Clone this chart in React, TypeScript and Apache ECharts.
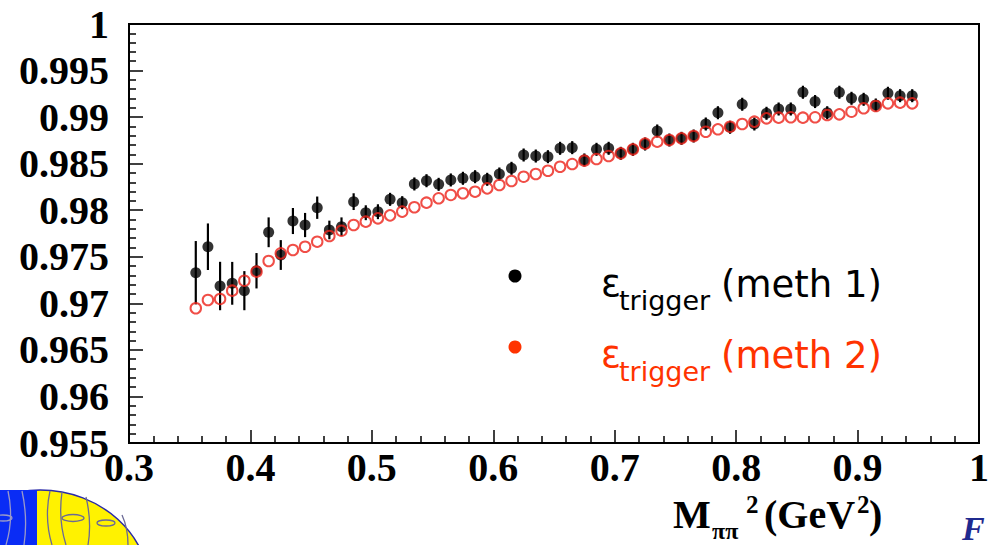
import React, { useEffect, useRef } from "react";
import * as echarts from "echarts";

// M_pipi^2 bin centres (GeV^2)
const massSq = [
  0.355, 0.365, 0.375, 0.385, 0.395, 0.405, 0.415, 0.425, 0.435, 0.445,
  0.455, 0.465, 0.475, 0.485, 0.495, 0.505, 0.515, 0.525, 0.535, 0.545,
  0.555, 0.565, 0.575, 0.585, 0.595, 0.605, 0.615, 0.625, 0.635, 0.645,
  0.655, 0.665, 0.675, 0.685, 0.695, 0.705, 0.715, 0.725, 0.735, 0.745,
  0.755, 0.765, 0.775, 0.785, 0.795, 0.805, 0.815, 0.825, 0.835, 0.845,
  0.855, 0.865, 0.875, 0.885, 0.895, 0.905, 0.915, 0.925, 0.935, 0.945,
];

// trigger efficiency, method 1
const effMeth1 = [
  0.97329, 0.97608, 0.97186, 0.97215, 0.97136, 0.9735, 0.97763, 0.97519, 0.97884, 0.97841,
  0.98027, 0.97788, 0.97823, 0.98092, 0.97973, 0.97984, 0.98117, 0.98081, 0.98282, 0.98317,
  0.98278, 0.98325, 0.98343, 0.9836, 0.98332, 0.98389, 0.9845, 0.98593, 0.98582, 0.98575,
  0.98665, 0.98672, 0.9854, 0.98654, 0.98665, 0.98611, 0.98654, 0.98711, 0.98851, 0.98754,
  0.98772, 0.98797, 0.98926, 0.99047, 0.98891, 0.99138, 0.98926, 0.99041, 0.99087, 0.99087,
  0.99267, 0.99167, 0.99047, 0.99267, 0.99202, 0.99191, 0.9913, 0.99256, 0.9923, 0.9923,
];

// statistical error on method 1
const effMeth1Err = [
  0.0034, 0.0025, 0.0026, 0.0023, 0.0021, 0.0019, 0.0016, 0.0016, 0.0014, 0.0013,
  0.0012, 0.001, 0.001, 0.0009, 0.0008, 0.0008, 0.0007, 0.0007, 0.0007, 0.0007,
  0.0007, 0.0007, 0.0007, 0.0007, 0.0007, 0.0007, 0.0007, 0.0007, 0.0007, 0.0007,
  0.0007, 0.0007, 0.0007, 0.0007, 0.0007, 0.0007, 0.0007, 0.0007, 0.0007, 0.0007,
  0.0007, 0.0007, 0.0007, 0.0007, 0.0007, 0.0007, 0.0007, 0.0007, 0.0007, 0.0007,
  0.0007, 0.0007, 0.0007, 0.0007, 0.0007, 0.0007, 0.0007, 0.0007, 0.0007, 0.0007,
];

// trigger efficiency, method 2
const effMeth2 = [
  0.96947, 0.97036, 0.97047, 0.97136, 0.97243, 0.9734, 0.97455, 0.97537, 0.97573, 0.97608,
  0.97662, 0.97723, 0.9778, 0.97841, 0.97877, 0.97913, 0.97945, 0.97985, 0.98032, 0.98081,
  0.98128, 0.98164, 0.98182, 0.98199, 0.98235, 0.98271, 0.98314, 0.9836, 0.98389, 0.98424,
  0.98467, 0.98496, 0.98532, 0.9855, 0.98582, 0.98611, 0.98654, 0.98715, 0.98736, 0.98754,
  0.98772, 0.98797, 0.98843, 0.98869, 0.98897, 0.98926, 0.98951, 0.98987, 0.98994, 0.98998,
  0.98994, 0.98998, 0.99023, 0.9903, 0.99058, 0.99095, 0.99119, 0.99148, 0.99155, 0.99148,
];

const xTicks = [0.3, 0.4, 0.5, 0.6, 0.7, 0.8, 0.9, 1];
const yTicks = [0.955, 0.96, 0.965, 0.97, 0.975, 0.98, 0.985, 0.99, 0.995, 1];

const RED = "#ec2219";
const LEGEND_RED = "#ff3300";
const SERIF = '"Liberation Serif", "Times New Roman", serif';
const SANS = '"DejaVu Sans", sans-serif';

const fmt = (v: number) => String(Number(v.toFixed(3)));

function txt(text: string, x: number, y: number, font: string, fill: string) {
  return {
    type: "text",
    silent: true,
    style: {
      text,
      x,
      y,
      font,
      fill,
      align: "left",
      verticalAlign: "middle",
      textAlign: "left",
      textVerticalAlign: "middle",
    },
  };
}

export default function App() {
  const ref = useRef<HTMLDivElement>(null);

  useEffect(() => {
    const chart = echarts.init(ref.current!, null, { renderer: "svg" });
    const xStep = Number((xTicks[1] - xTicks[0]).toFixed(4));
    const yStep = Number((yTicks[1] - yTicks[0]).toFixed(4));

    const labelStyle = {
      color: "#000",
      fontFamily: SERIF,
      fontWeight: "bold",
      fontSize: 40,
      showMinLabel: true,
      showMaxLabel: true,
      formatter: fmt,
    };

    const legendRows = [
      { text: "(meth 1)", color: "#000", dy: 0 },
      { text: "(meth 2)", color: LEGEND_RED, dy: 71 },
    ];

    const legendGraphics: any[] = [];
    legendRows.forEach((r) => {
      legendGraphics.push({
        type: "circle",
        silent: true,
        shape: { cx: 515, cy: 276 + r.dy, r: 6.5 },
        style: { fill: r.color },
      });
      legendGraphics.push(txt("ε", 601, 283 + r.dy, `37px ${SANS}`, r.color));
      legendGraphics.push(txt("trigger", 619, 300 + r.dy, `27px ${SANS}`, r.color));
      legendGraphics.push(txt(r.text, 721, 284 + r.dy, `37px ${SANS}`, r.color));
    });

    const logoLine = "#6b6a96";
    const logo: any[] = [
      {
        type: "ellipse",
        silent: true,
        shape: { cx: 40, cy: 590, rx: 110, ry: 100 },
        style: { fill: "#fff200", stroke: "#2a2aa8", lineWidth: 1.5 },
      },
      {
        type: "rect",
        silent: true,
        shape: { x: 0, y: 490, width: 37, height: 60 },
        style: { fill: "#0a2cf5" },
      },
      {
        type: "bezierCurve",
        silent: true,
        shape: { x1: 50, y1: 491, x2: 52, y2: 545, cpx1: 44, cpy1: 518 },
        style: { stroke: logoLine, lineWidth: 1.3, fill: "none" },
      },
      {
        type: "bezierCurve",
        silent: true,
        shape: { x1: 62, y1: 492, x2: 66, y2: 545, cpx1: 58, cpy1: 520 },
        style: { stroke: logoLine, lineWidth: 1.3, fill: "none" },
      },
      {
        type: "bezierCurve",
        silent: true,
        shape: { x1: 86, y1: 497, x2: 88, y2: 545, cpx1: 92, cpy1: 522 },
        style: { stroke: logoLine, lineWidth: 1.3, fill: "none" },
      },
      {
        type: "bezierCurve",
        silent: true,
        shape: { x1: 122, y1: 515, x2: 128, y2: 545, cpx1: 128, cpy1: 528 },
        style: { stroke: logoLine, lineWidth: 1.3, fill: "none" },
      },
      {
        type: "ellipse",
        silent: true,
        shape: { cx: 73, cy: 518, rx: 11, ry: 3.5 },
        style: { fill: "none", stroke: logoLine, lineWidth: 1.3 },
      },
      {
        type: "ellipse",
        silent: true,
        shape: { cx: 106, cy: 523, rx: 9, ry: 3 },
        style: { fill: "none", stroke: logoLine, lineWidth: 1.3 },
      },
      {
        type: "bezierCurve",
        silent: true,
        shape: { x1: 22, y1: 491, x2: 24, y2: 545, cpx1: 28, cpy1: 518 },
        style: { stroke: "#9a9ac8", lineWidth: 1.3, fill: "none" },
      },
      {
        type: "bezierCurve",
        silent: true,
        shape: { x1: 8, y1: 491, x2: 6, y2: 545, cpx1: 14, cpy1: 518 },
        style: { stroke: "#9a9ac8", lineWidth: 1.3, fill: "none" },
      },
      {
        type: "ellipse",
        silent: true,
        shape: { cx: 3, cy: 518, rx: 9, ry: 3 },
        style: { fill: "none", stroke: "#9a9ac8", lineWidth: 1.3 },
      },
    ];

    const axisTitle: any[] = [
      txt("M", 673, 514, `bold 40px ${SERIF}`, "#000"),
      txt("ππ", 712, 531, `bold 24px ${SERIF}`, "#000"),
      txt("2", 746, 504, `bold 25px ${SERIF}`, "#000"),
      txt("(GeV", 764, 514, `bold 40px ${SERIF}`, "#000"),
      txt("2", 857, 504, `bold 25px ${SERIF}`, "#000"),
      txt(")", 869, 514, `bold 40px ${SERIF}`, "#000"),
      txt("F", 962, 528, `italic bold 34px ${SERIF}`, "#1f2a8f"),
    ];

    const option: any = {
      animation: false,
      backgroundColor: "#fff",
      grid: {
        left: 129,
        right: 2,
        top: 24,
        bottom: 102,
        show: true,
        borderColor: "#000",
        borderWidth: 2,
        backgroundColor: "#fff",
      },
      xAxis: {
        type: "value",
        min: xTicks[0],
        max: xTicks[xTicks.length - 1],
        interval: xStep,
        axisLine: { show: true, onZero: false, lineStyle: { color: "#000", width: 2 } },
        axisTick: { show: true, inside: true, length: 13, lineStyle: { color: "#000", width: 1.5 } },
        minorTick: { show: true, splitNumber: 5, length: 7, lineStyle: { color: "#000", width: 1.5 } },
        splitLine: { show: false },
        minorSplitLine: { show: false },
        axisLabel: { ...labelStyle, margin: 4 },
      },
      yAxis: {
        type: "value",
        min: yTicks[0],
        max: yTicks[yTicks.length - 1],
        interval: yStep,
        axisLine: { show: true, onZero: false, lineStyle: { color: "#000", width: 2 } },
        axisTick: { show: true, inside: true, length: 14, lineStyle: { color: "#000", width: 1.5 } },
        minorTick: { show: true, splitNumber: 5, length: 7, lineStyle: { color: "#000", width: 1.5 } },
        splitLine: { show: false },
        minorSplitLine: { show: false },
        axisLabel: { ...labelStyle, margin: 20 },
      },
      series: [
        {
          name: "err1",
          type: "custom",
          silent: true,
          z: 2,
          data: massSq.map((x, i) => [
            x,
            effMeth1[i] - effMeth1Err[i],
            effMeth1[i] + effMeth1Err[i],
          ]),
          encode: { x: 0, y: [1, 2] },
          renderItem: (_params: any, api: any) => {
            const lo = api.coord([api.value(0), api.value(1)]);
            const hi = api.coord([api.value(0), api.value(2)]);
            return {
              type: "line",
              shape: { x1: lo[0], y1: lo[1], x2: hi[0], y2: hi[1] },
              style: { stroke: "#000", lineWidth: 2.2 },
            };
          },
        },
        {
          name: "meth 1",
          type: "scatter",
          z: 3,
          symbol: "circle",
          symbolSize: 11,
          itemStyle: { color: "#000" },
          data: massSq.map((x, i) => [x, effMeth1[i]]),
        },
        {
          name: "meth 2",
          type: "scatter",
          z: 4,
          symbol: "circle",
          symbolSize: 10.5,
          itemStyle: { color: "rgba(0,0,0,0)", borderColor: RED, borderWidth: 2 },
          data: massSq.map((x, i) => [x, effMeth2[i]]),
        },
      ],
      graphic: [...legendGraphics, ...axisTitle, ...logo],
    };

    chart.setOption(option);
    return () => chart.dispose();
  }, []);

  return (
    <div
      ref={ref}
      style={{
        position: "fixed",
        left: 0,
        top: 0,
        width: 992,
        height: 545,
        background: "#fff",
      }}
    />
  );
}
